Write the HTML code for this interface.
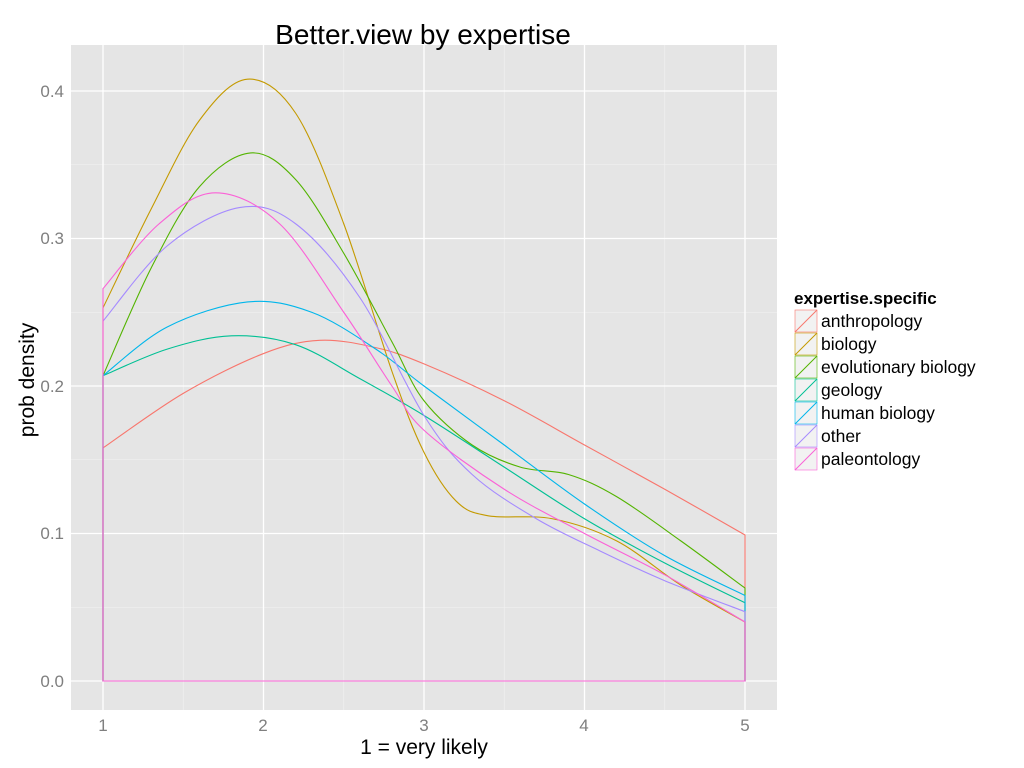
<!DOCTYPE html>
<html><head><meta charset="utf-8"><style>
body{margin:0;background:#fff;}
svg{display:block;font-family:"Liberation Sans",sans-serif;}
</style></head><body>
<svg id="s" width="1024" height="768" xmlns="http://www.w3.org/2000/svg">
<rect x="0" y="0" width="1024" height="768" fill="#fff"/>
<rect x="71" y="45" width="706" height="665" fill="#E5E5E5"/>
<g id="grid"></g>
<g id="curves" fill="none" stroke-width="1.1"></g>
<text x="423" y="44" font-size="28" text-anchor="middle" fill="#000">Better.view  by expertise</text>
<text x="424" y="754" font-size="21" text-anchor="middle" fill="#000">1 = very likely</text>
<text x="34" y="380" font-size="21" text-anchor="middle" fill="#000" transform="rotate(-90 34 380)">prob density</text>
<g font-size="17" fill="#7F7F7F" text-anchor="end">
<text x="64" y="687">0.0</text><text x="64" y="539">0.1</text><text x="64" y="392">0.2</text><text x="64" y="244">0.3</text><text x="64" y="97">0.4</text>
</g>
<g font-size="17" fill="#7F7F7F" text-anchor="middle">
<text x="103" y="731">1</text><text x="263" y="731">2</text><text x="424" y="731">3</text><text x="584" y="731">4</text><text x="745" y="731">5</text>
</g>
<text x="794" y="304" font-size="17" font-weight="bold" fill="#000">expertise.specific</text>
<g id="legend" font-size="17.5" fill="#000"></g>
</svg>
<script>
function X(v){return 103+(v-1)*160.5;}
function Y(v){return 681-v*1475;}
var g=document.getElementById("grid"),h="";
[1.5,2.5,3.5,4.5].forEach(function(v){h+='<line x1="'+X(v)+'" x2="'+X(v)+'" y1="45" y2="710" stroke="#F2F2F2" stroke-width="0.6"/>';});
[0.05,0.15,0.25,0.35].forEach(function(v){h+='<line y1="'+Y(v)+'" y2="'+Y(v)+'" x1="71" x2="777" stroke="#F2F2F2" stroke-width="0.6"/>';});
for(var v=1;v<=5;v++)h+='<line x1="'+X(v)+'" x2="'+X(v)+'" y1="45" y2="710" stroke="#fff" stroke-width="1.3"/>';
[0,0.1,0.2,0.3,0.4].forEach(function(v){h+='<line y1="'+Y(v)+'" y2="'+Y(v)+'" x1="71" x2="777" stroke="#fff" stroke-width="1.3"/>';});
g.innerHTML=h;
var D=[
["anthropology","#F8766D",[[1,.158],[1.5,.195],[2,.222],[2.35,.231],[2.7,.226],[3,.215],[3.5,.19],[4,.16],[4.5,.13],[5,.099]]],
["biology","#C49A00",[[1,.253],[1.3,.32],[1.6,.38],[1.9,.408],[2.2,.385],[2.5,.31],[2.8,.21],[3,.155],[3.2,.122],[3.4,.112],[3.8,.11],[4.2,.095],[4.6,.065],[5,.04]]],
["evolutionary biology","#53B400",[[1,.207],[1.3,.28],[1.6,.335],[1.92,.358],[2.2,.34],[2.5,.29],[2.8,.23],[3,.19],[3.3,.16],[3.6,.145],[3.9,.14],[4.2,.125],[4.6,.095],[5,.063]]],
["geology","#00C094",[[1,.207],[1.4,.225],[1.8,.234],[2.2,.228],[2.6,.205],[3,.18],[3.5,.145],[4,.11],[4.5,.08],[5,.053]]],
["human biology","#00B6EB",[[1,.207],[1.4,.24],[1.9,.257],[2.3,.25],[2.7,.225],[3,.2],[3.5,.16],[4,.12],[4.5,.085],[5,.058]]],
["other","#A58AFF",[[1,.244],[1.4,.295],[1.85,.321],[2.2,.31],[2.6,.26],[3,.18],[3.3,.14],[3.7,.11],[4.1,.088],[4.5,.068],[5,.047]]],
["paleontology","#FB61D7",[[1,.266],[1.35,.31],[1.7,.331],[2.1,.31],[2.5,.25],[2.8,.2],[3,.17],[3.5,.13],[4,.1],[4.5,.072],[5,.04]]]
];
var c=document.getElementById("curves"),lg=document.getElementById("legend"),ch="",lh="";
D.forEach(function(d,i){
 var p=d[2].map(function(q){return [X(q[0]),Y(q[1])];});
 var s="M"+X(1)+","+Y(0)+" L"+p[0][0]+","+p[0][1];
 for(var k=0;k<p.length-1;k++){
  var p0=p[Math.max(0,k-1)],p1=p[k],p2=p[k+1],p3=p[Math.min(p.length-1,k+2)];
  var c1=[p1[0]+(p2[0]-p0[0])/6,p1[1]+(p2[1]-p0[1])/6],c2=[p2[0]-(p3[0]-p1[0])/6,p2[1]-(p3[1]-p1[1])/6];
  s+=" C"+c1[0]+","+c1[1]+" "+c2[0]+","+c2[1]+" "+p2[0]+","+p2[1];
 }
 s+=" L"+X(5)+","+Y(0)+" Z";
 ch+='<path d="'+s+'" stroke="'+d[1]+'"/>';
 var y=310+i*23;
 lh+='<rect x="795" y="'+y+'" width="22" height="22" fill="#F2F2F2" stroke="'+d[1]+'" stroke-width="0.6"/>';
 lh+='<line x1="795" y1="'+(y+22)+'" x2="817" y2="'+y+'" stroke="'+d[1]+'"/>';
 lh+='<text x="821" y="'+(y+17)+'">'+d[0]+'</text>';
});
c.innerHTML=ch;lg.innerHTML=lh;
</script>
</body></html>
